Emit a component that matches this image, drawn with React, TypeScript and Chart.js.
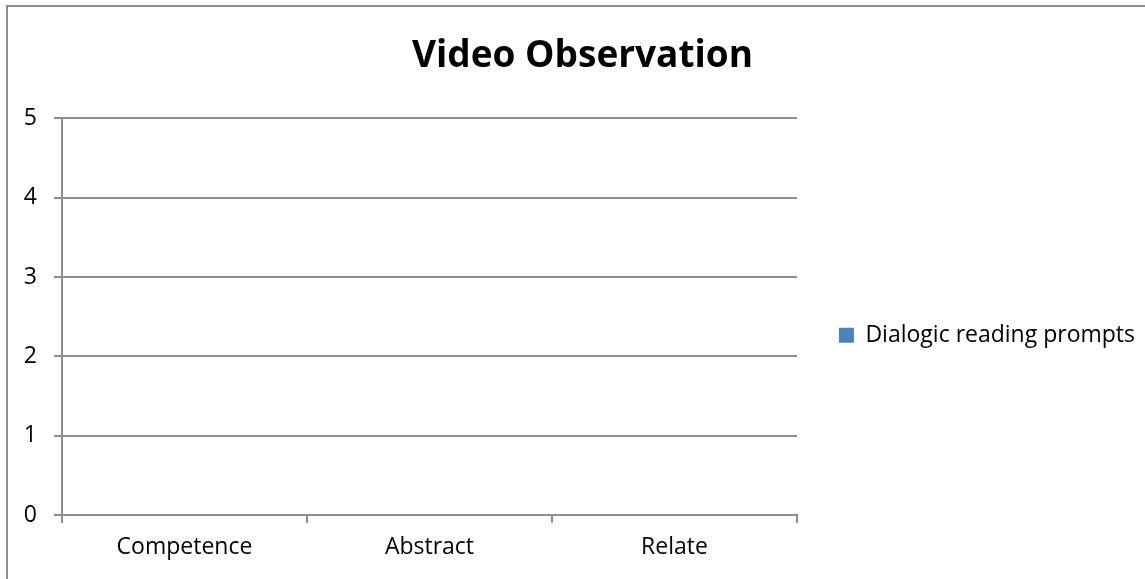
import React, { useEffect, useRef } from "react";
import { Chart, registerables } from "chart.js";

Chart.register(...registerables);

const chartTitle = "Video Observation";
const categories = ["Competence", "Abstract", "Relate"];
const seriesName = "Dialogic reading prompts";
const seriesValues = [0, 0, 0];
const yMin = 0;
const yMax = 5;
const yStep = 1;

const FONT = "'Open Sans', sans-serif";
const GRID = "#8e8e8e";

const frameBorder = {
  id: "frameBorder",
  beforeDraw(chart: any) {
    const ctx = chart.ctx;
    ctx.save();
    ctx.fillStyle = "#ffffff";
    ctx.fillRect(0, 0, chart.width, chart.height);
    ctx.strokeStyle = GRID;
    ctx.lineWidth = 2;
    ctx.strokeRect(7, 6, chart.width + 50, chart.height + 50);
    ctx.restore();
  },
};

export default function App() {
  const ref = useRef<HTMLCanvasElement | null>(null);

  useEffect(() => {
    document.body.style.margin = "0";
    const canvas = ref.current;
    if (!canvas) return;
    const chart = new Chart(canvas, {
      type: "bar",
      data: {
        labels: categories,
        datasets: [
          {
            label: seriesName,
            data: seriesValues,
            backgroundColor: "#4F81BD",
            borderWidth: 0,
          },
        ],
      },
      options: {
        animation: false,
        responsive: true,
        maintainAspectRatio: false,
        layout: { padding: { left: 20, right: 0, top: 0, bottom: 0 } },
        plugins: {
          title: {
            display: true,
            text: chartTitle,
            color: "#000",
            font: { family: FONT, size: 37, weight: "bold" },
            padding: { top: 34, bottom: 40 },
          },
          legend: {
            display: true,
            position: "right",
            fullSize: false,
            maxWidth: 500,
            title: {
              display: true,
              text: "",
              font: { family: FONT, size: 10 },
              padding: { top: 25, bottom: 0 },
            },
            labels: {
              color: "#000",
              font: { family: FONT, size: 23 },
              boxWidth: 15,
              boxHeight: 15,
              padding: 42,
            },
          },
          tooltip: { enabled: false },
        },
        scales: {
          x: {
            offset: true,
            grid: {
              offset: true,
              drawOnChartArea: false,
              drawTicks: true,
              tickLength: 8,
              color: GRID,
              lineWidth: 2,
            },
            border: { display: true, color: GRID, width: 2 },
            ticks: {
              color: "#000",
              font: { family: FONT, size: 23 },
              padding: 11,
              maxRotation: 0,
            },
            afterFit(scale: any) {
              scale.height = 64;
            },
          },
          y: {
            min: yMin,
            max: yMax,
            grid: {
              color: GRID,
              lineWidth: 2,
              tickLength: 8,
              drawTicks: true,
            },
            border: { display: true, color: GRID, width: 2 },
            ticks: {
              stepSize: yStep,
              color: "#000",
              font: { family: FONT, size: 23 },
              padding: 17,
            },
            afterFit(scale: any) {
              scale.width = 42;
            },
          },
        },
      },
      plugins: [frameBorder],
    });
    return () => chart.destroy();
  }, []);

  return (
    <div style={{ width: "1145px", height: "579px", position: "relative" }}>
      <canvas ref={ref} />
    </div>
  );
}
